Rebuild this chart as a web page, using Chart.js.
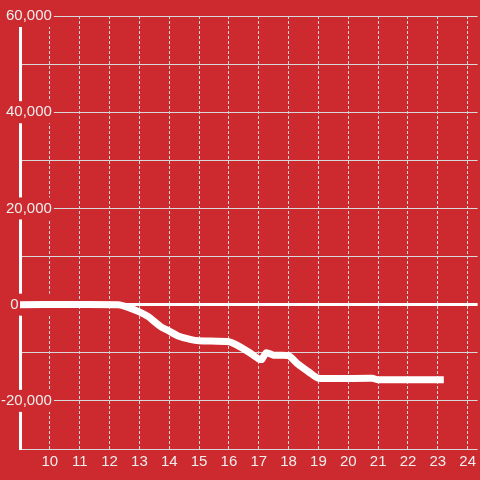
<!DOCTYPE html>
<html>
<head>
<meta charset="utf-8">
<script src="https://cdn.jsdelivr.net/npm/chart.js@4/dist/chart.umd.min.js"></script>
<style>
  html, body { margin: 0; padding: 0; background: #cc2a2f; }
  #wrap { width: 480px; height: 480px; position: relative; }
</style>
</head>
<body>
<div id="wrap"><canvas id="grafico"></canvas></div>
<script>
    // datos (hora del dia, valor)
    const horas = [9, 12.3, 12.6, 13, 13.3, 13.7, 14, 14.3, 14.7, 15, 16, 16.3, 16.7, 17, 17.1, 17.25, 17.5, 18, 18.3, 18.7, 19, 20.8, 21, 23.2];
    const valores = [0, 0, -500, -1500, -2500, -4500, -5500, -6500, -7200, -7500, -7700, -8500, -10000, -11300, -11400, -10000, -10500, -10600, -12300, -14100, -15300, -15300, -15600, -15600];

    // marcas de los ejes
    const ticksX = [10, 11, 12, 13, 14, 15, 16, 17, 18, 19, 20, 21, 22, 23, 24];
    const ticksY = [-30000, -20000, -10000, 0, 10000, 20000, 30000, 40000, 50000, 60000];
    const etiquetasY = [-20000, 0, 20000, 40000, 60000];

    const FONDO = '#cc2a2f';
    const TEXTO = '#eeeeee';
    const REJILLA = '#d8d8d8';

    const puntos = horas.map((h, i) => ({ x: h, y: valores[i] }));

    const ctx = document.getElementById('grafico').getContext('2d');
    const myChart = new Chart(ctx, {
        type: 'line',
        data: {
            datasets: [{
                data: puntos,
                borderColor: '#ffffff',
                borderWidth: 7,
                borderJoinStyle: 'round',
                pointRadius: 0,
                tension: 0.2,
                fill: false
            }]
        },
        options: {
            responsive: true,
            maintainAspectRatio: false,
            animation: false,
            layout: { padding: { top: 16, left: 20, right: 0, bottom: 5 } },
            plugins: {
                legend: { display: false },
                tooltip: { enabled: false }
            },
            scales: {
                x: {
                    type: 'linear',
                    min: 9,
                    max: 24.333,
                    afterBuildTicks: (scale) => { scale.ticks = ticksX.map(v => ({ value: v })); },
                    grid: { color: REJILLA, lineWidth: 1, drawTicks: false },
                    border: { display: false, dash: [3, 2] },
                    ticks: {
                        color: TEXTO,
                        padding: 4,
                        maxRotation: 0,
                        font: { family: "'Liberation Sans', Arial, sans-serif", size: 15 }
                    }
                },
                y: {
                    type: 'linear',
                    min: -30000,
                    max: 60000,
                    afterBuildTicks: (scale) => { scale.ticks = ticksY.map(v => ({ value: v })); },
                    // el eje no ocupa ancho: las etiquetas van encima del area
                    afterFit: (scale) => { scale.width = 0; },
                    grid: {
                        drawTicks: false,
                        color: (c) => (c.tick && c.tick.value === 0) ? '#ffffff' : REJILLA,
                        lineWidth: (c) => (c.tick && c.tick.value === 0) ? 3 : 1
                    },
                    border: { display: true, color: '#ffffff', width: 3 },
                    ticks: {
                        mirror: true,
                        crossAlign: 'far',
                        padding: -19,
                        color: TEXTO,
                        font: { family: "'Liberation Sans', Arial, sans-serif", size: 15 },
                        showLabelBackdrop: true,
                        backdropPadding: 2,
                        backdropColor: (c) => (c.tick && etiquetasY.includes(c.tick.value)) ? FONDO : 'rgba(0,0,0,0)',
                        callback: (v) => {
                            if (!etiquetasY.includes(v)) return '';
                            if (v === 0) return '0' + ' '.repeat(8);
                            return v.toLocaleString('en-US');
                        }
                    }
                }
            }
        }
    });
</script>
</body>
</html>
